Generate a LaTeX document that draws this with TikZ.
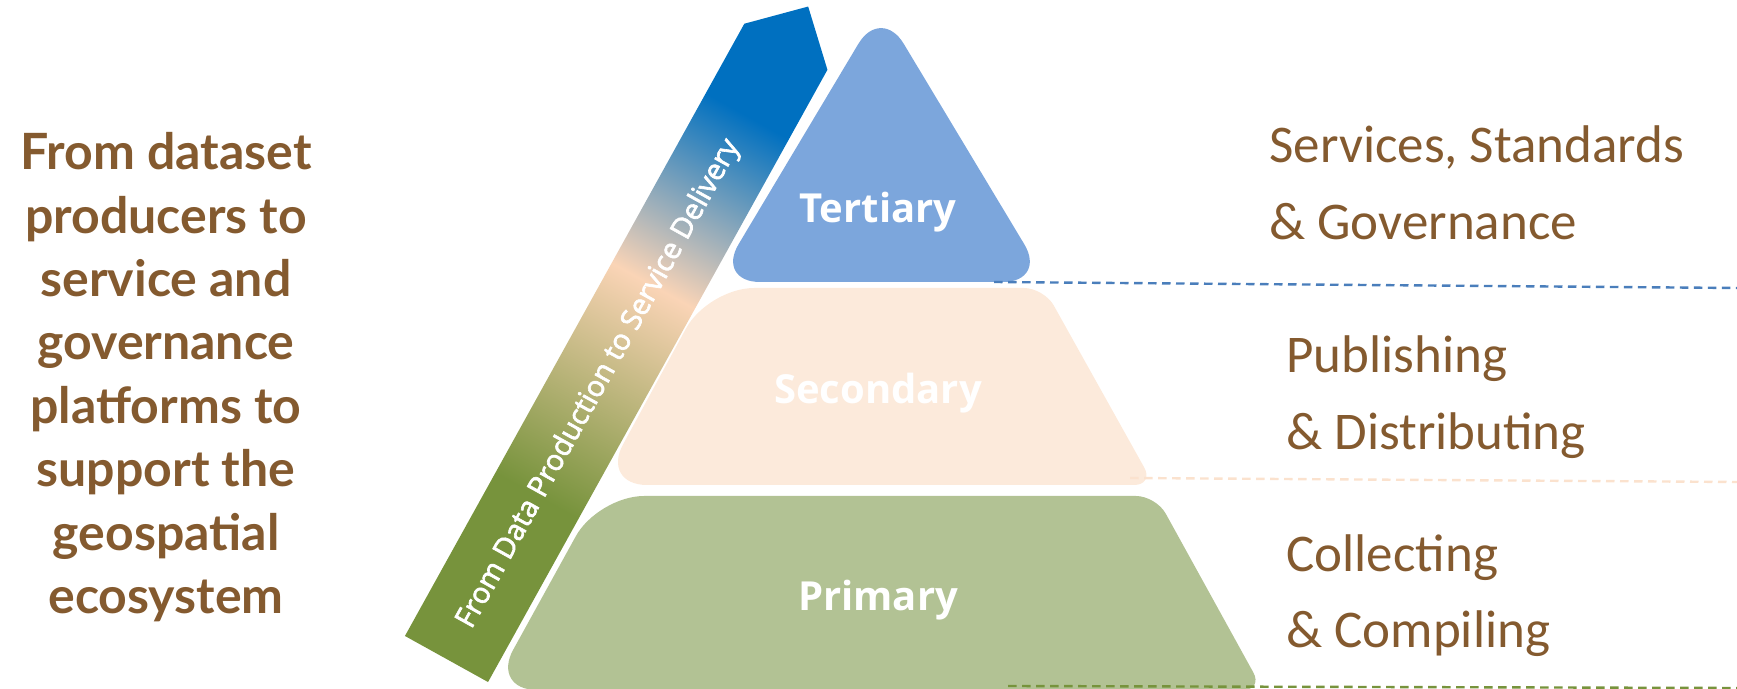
\documentclass[tikz,border=0pt]{standalone}
\usepackage{fontspec}
\setmainfont{Carlito}
\newfontfamily\latofont{Lato}
\newfontfamily\segoefont{Open Sans}
\newfontfamily\bandfont{Open Sans}[FakeBold=2.2]
\usetikzlibrary{positioning}

\definecolor{brownText}{HTML}{845A2F}
\definecolor{tertFill}{HTML}{7CA6DC}
\definecolor{secFill}{HTML}{FCEADB}
\definecolor{primFill}{HTML}{B2C294}
\definecolor{bandGreen}{HTML}{77933C}
\definecolor{bandPeach}{HTML}{FAD4B6}
\definecolor{bandBlue}{HTML}{0070C0}
\definecolor{tertLine}{HTML}{4A7EBB}
\definecolor{secLine}{HTML}{FBE2CE}

\pgfdeclareverticalshading{bandshade}{100bp}{color(0bp)=(bandGreen); color(37.5bp)=(bandGreen); color(53.6bp)=(bandPeach); color(66.6bp)=(bandBlue); color(100bp)=(bandBlue)}

\begin{document}
\begin{tikzpicture}[x=0.5pt, y=-0.5pt]
    % Estilos
    \tikzstyle{layer label} = [text=white, font=\segoefont\bfseries\fontsize{20}{24}\selectfont, inner sep=0pt]
    \tikzstyle{side label} = [text=brownText, font=\fontsize{26.5}{38.5}\selectfont, align=left, anchor=base west, inner sep=0pt]
    \tikzstyle{guide} = [draw, dash pattern=on 4.25pt off 2.75pt, line width=1.2pt]

    \useasboundingbox (0,0) rectangle (1737,689);

    % Faixa
    \begin{scope}[transform canvas={shift={(446.5,659)}, rotate=-29}]
        \shade[shading=bandshade] (-47.5,0) -- (-47.5,-700) -- (0,-746) -- (47.5,-700) -- (47.5,0) -- cycle;
    \end{scope}
    \node[rotate=61, text=white, font=\bandfont\fontsize{14.5}{17}\selectfont] (band) at (599,384) {From Data Production to Service Delivery};

    % Camadas
    \fill[tertFill, rounded corners=22pt] (716,282) -- (881,6) -- (1047,282) -- cycle;
    \fill[secFill] (877,485) [rounded corners=23pt] -- (601,485) -- (708,288) [rounded corners=10pt] -- (1044,288) -- (1154,485) [rounded corners=23pt] -- cycle;
    \fill[primFill] (877,690) [rounded corners=23pt] -- (491,690) -- (598,496) [rounded corners=10pt] -- (1156,496) -- (1263,690) [rounded corners=23pt] -- cycle;

    % Nós
    \node[layer label] (tertiary) at (878,212) {Tertiary};
    \node[layer label, below of=tertiary, node distance=90.5pt] (secondary) {Secondary};
    \node[layer label, below of=secondary, node distance=103.5pt] (primary) {Primary};

    \node[side label] (tertText) at (1269,240) {Services, Standards\\\& Governance};
    \node[side label] (secText) at (1286,450) {Publishing\\\& Distributing};
    \node[side label] (primText) at (1286,648) {Collecting\\\& Compiling};

    \node[text=brownText, font=\latofont\bfseries\fontsize{25}{31.75}\selectfont, align=center, anchor=base, inner sep=0pt] (intro) at (166,614) {From dataset\\producers to\\service and\\governance\\platforms to\\support the\\geospatial\\ecosystem};

    % Linhas
    \coordinate (tertCorner) at (994,282);
    \coordinate (tertEnd) at (1737,288);
    \coordinate (secCorner) at (1130,478);
    \coordinate (secEnd) at (1737,482);
    \coordinate (primCorner) at (1008,686);
    \coordinate (primEnd) at (1737,688);
    \path [guide, tertLine] (tertCorner) -- (tertEnd);
    \path [guide, secLine] (secCorner) -- (secEnd);
    \path [guide, bandGreen] (primCorner) -- (primEnd);
\end{tikzpicture}
\end{document}
